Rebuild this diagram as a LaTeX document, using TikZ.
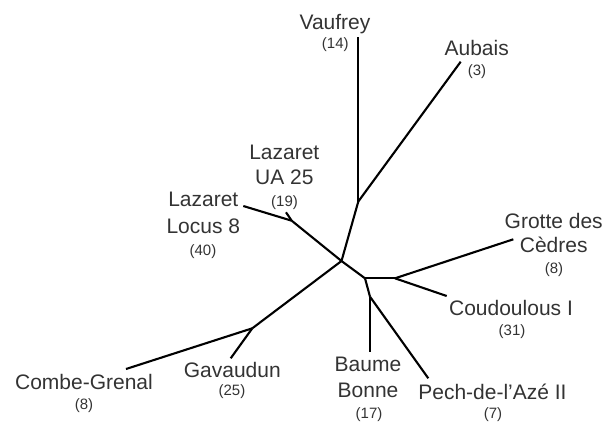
\documentclass[tikz,border=0pt]{standalone}
\usepackage{fontspec}
\setmainfont{Liberation Sans}
\begin{document}
\begin{tikzpicture}[x=1pt,y=-1pt,
  branch/.style={line width=2.1pt,black,line join=round},
  site/.style={anchor=base,inner sep=0pt,text=black!80,font=\fontsize{21}{25.5}\selectfont},
  count/.style={anchor=base,inner sep=0pt,text=black!80,font=\fontsize{15}{18}\selectfont}]
\useasboundingbox (0,0) rectangle (616,421);
% inner nodes
\coordinate (C) at (341.5,261);
\coordinate (A) at (358.3,201.5);
\coordinate (L) at (291.7,220.7);
\coordinate (B) at (365,278.3);
\coordinate (D) at (395,278.3);
\coordinate (E) at (370,296.7);
\coordinate (F) at (252.3,328.3);
% tips
\coordinate (vau) at (358.3,37);
\coordinate (aub) at (460.7,61.7);
\coordinate (lua) at (286,212.3);
\coordinate (ll8) at (243.3,206);
\coordinate (gro) at (513.3,239.3);
\coordinate (cou) at (446.7,296);
\coordinate (bau) at (370,351.7);
\coordinate (pec) at (428.3,378.3);
\coordinate (com) at (126,369);
\coordinate (gav) at (230.7,358.3);
% branches
\draw[branch] (C) -- (A);
\draw[branch] (A) -- (vau);
\draw[branch] (A) -- (aub);
\draw[branch] (C) -- (L);
\draw[branch] (L) -- (lua);
\draw[branch] (L) -- (ll8);
\draw[branch] (C) -- (B);
\draw[branch] (B) -- (D);
\draw[branch] (D) -- (gro);
\draw[branch] (D) -- (cou);
\draw[branch] (B) -- (E);
\draw[branch] (E) -- (bau);
\draw[branch] (E) -- (pec);
\draw[branch] (C) -- (F);
\draw[branch] (F) -- (com);
\draw[branch] (F) -- (gav);
% labels
\node[site] (tvau) at (335,29.3) {Vaufrey};
\node[count] (nvau) at (335.3,48) {(14)};
\node[site] (taub) at (476.7,55) {Aubais};
\node[count] (naub) at (477,75) {(3)};
\node[site] (tlua1) at (284.3,159.3) {Lazaret};
\node[site] (tlua2) at (284.3,184.3) {UA 25};
\node[count] (nlua) at (284.5,206.5) {(19)};
\node[site] (tll81) at (203.3,206.7) {Lazaret};
\node[site] (tll82) at (203.3,233.3) {Locus 8};
\node[count] (nll8) at (203,255) {(40)};
\node[site] (tgro1) at (553.7,228.3) {Grotte des};
\node[site] (tgro2) at (553.7,252.3) {Cèdres};
\node[count] (ngro) at (554,273.3) {(8)};
\node[site] (tcou) at (511,315.7) {Coudoulous I};
\node[count] (ncou) at (512,335.7) {(31)};
\node[site] (tbau1) at (368,371.7) {Baume};
\node[site] (tbau2) at (368,397.3) {Bonne};
\node[count] (nbau) at (369,418) {(17)};
\node[site] (tpec) at (492.5,399) {Pech-de-l’Azé II};
\node[count] (npec) at (493,418) {(7)};
\node[site] (tcom) at (84,389.3) {Combe-Grenal};
\node[count] (ncom) at (84,409) {(8)};
\node[site] (tgav) at (232.3,377.7) {Gavaudun};
\node[count] (ngav) at (232,395) {(25)};
\end{tikzpicture}
\end{document}
